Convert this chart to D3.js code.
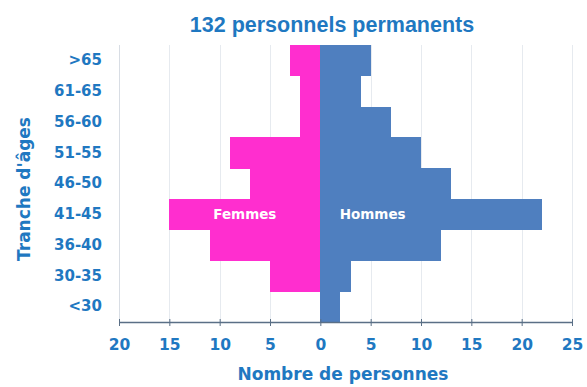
<!DOCTYPE html>
<html>
<head>
<meta charset="utf-8">
<script src="https://cdn.jsdelivr.net/npm/d3@7"></script>
<style>
  html, body { margin: 0; padding: 0; background: #ffffff; }
  svg { display: block; }
  text { font-family: "DejaVu Sans", Verdana, sans-serif; font-weight: bold; }
  text.chart-title { font-family: "Liberation Sans", Arial, sans-serif; }
</style>
</head>
<body>
<svg id="chart" width="587" height="387"></svg>
<script>
// Age bands, top to bottom
const ageBands = [">65", "61-65", "56-60", "51-55", "46-50", "41-45", "36-40", "30-35", "<30"];
// Headcount per band
const femmes = [3, 2, 2, 9, 7, 15, 11, 5, 0];
const hommes = [5, 4, 7, 10, 13, 22, 12, 3, 2];
// Axis ticks (absolute counts on both sides of zero)
const xTicks = [-20, -15, -10, -5, 0, 5, 10, 15, 20, 25];

const title = "132 personnels permanents";
const xTitle = "Nombre de personnes";
const yTitle = "Tranche d'âges";

const colFemmes = "#ff2ecf";
const colHommes = "#4f7fbf";
const textBlue = "#1f78c1";

const svg = d3.select("#chart");
const margin = { top: 45, right: 15, bottom: 65, left: 119 };
const W = 587, H = 387;

const x = d3.scaleLinear().domain([-20, 25]).range([margin.left, 572]);
const y = d3.scaleBand().domain(ageBands).range([margin.top, H - margin.bottom]).padding(0);

// vertical gridlines
svg.append("g")
  .selectAll("line")
  .data(xTicks)
  .join("line")
  .attr("x1", d => Math.round(x(d)) + 0.5).attr("x2", d => Math.round(x(d)) + 0.5)
  .attr("y1", margin.top).attr("y2", H - margin.bottom)
  .attr("stroke", "#e6eaef")
  .attr("stroke-width", 1);

// left frame line
svg.append("line")
  .attr("x1", Math.round(x(-20)) + 0.5).attr("x2", Math.round(x(-20)) + 0.5)
  .attr("y1", margin.top).attr("y2", H - margin.bottom)
  .attr("stroke", "#d8dde4");

const rows = ageBands.map((a, i) => ({ age: a, f: femmes[i], h: hommes[i] }));

// women bars (left of zero)
svg.append("g")
  .attr("shape-rendering", "crispEdges")
  .selectAll("rect")
  .data(rows)
  .join("rect")
  .attr("x", d => x(-d.f))
  .attr("y", d => y(d.age))
  .attr("width", d => x(0) - x(-d.f))
  .attr("height", y.bandwidth() + 0.5)
  .attr("fill", colFemmes);

// men bars (right of zero)
svg.append("g")
  .attr("shape-rendering", "crispEdges")
  .selectAll("rect")
  .data(rows)
  .join("rect")
  .attr("x", x(0))
  .attr("y", d => y(d.age))
  .attr("width", d => x(d.h) - x(0))
  .attr("height", y.bandwidth() + 0.5)
  .attr("fill", colHommes);

// series labels inside the widest band
const yMid = y("41-45") + y.bandwidth() / 2;
svg.append("text")
  .attr("x", x(-7.5)).attr("y", yMid + 5)
  .attr("text-anchor", "middle")
  .attr("fill", "#ffffff").attr("font-size", 13.5)
  .text("Femmes");
svg.append("text")
  .attr("x", x(5.2)).attr("y", yMid + 5)
  .attr("text-anchor", "middle")
  .attr("fill", "#ffffff").attr("font-size", 13.5)
  .text("Hommes");

// bottom axis
const xAxis = d3.axisBottom(x)
  .tickValues(xTicks)
  .tickFormat(d => Math.abs(d))
  .tickSizeInner(5)
  .tickSizeOuter(0);
const gx = svg.append("g")
  .attr("transform", `translate(0,${H - margin.bottom})`)
  .call(xAxis);
gx.select(".domain").attr("stroke", "#5a6f86").attr("stroke-width", 1.5);
gx.selectAll(".tick line").attr("stroke", "#5a6f86").attr("y1", -3).attr("y2", 4);
gx.selectAll(".tick text")
  .attr("fill", textBlue)
  .attr("font-size", 15.5)
  .attr("y", 28)
  .attr("dy", 0);

// left category labels
const yAxis = d3.axisLeft(y).tickSize(0).tickPadding(17);
const gy = svg.append("g")
  .attr("transform", `translate(${margin.left},0)`)
  .call(yAxis);
gy.select(".domain").remove();
gy.selectAll(".tick text")
  .attr("fill", textBlue)
  .attr("font-size", 15);

// titles
svg.append("text")
  .attr("class", "chart-title")
  .attr("x", 332).attr("y", 32)
  .attr("text-anchor", "middle")
  .attr("fill", textBlue).attr("font-size", 21.5)
  .text(title);

svg.append("text")
  .attr("x", 343).attr("y", 380)
  .attr("text-anchor", "middle")
  .attr("fill", textBlue).attr("font-size", 17)
  .text(xTitle);

svg.append("text")
  .attr("transform", `translate(30,189) rotate(-90)`)
  .attr("text-anchor", "middle")
  .attr("fill", textBlue).attr("font-size", 17)
  .text(yTitle);
</script>
</body>
</html>
